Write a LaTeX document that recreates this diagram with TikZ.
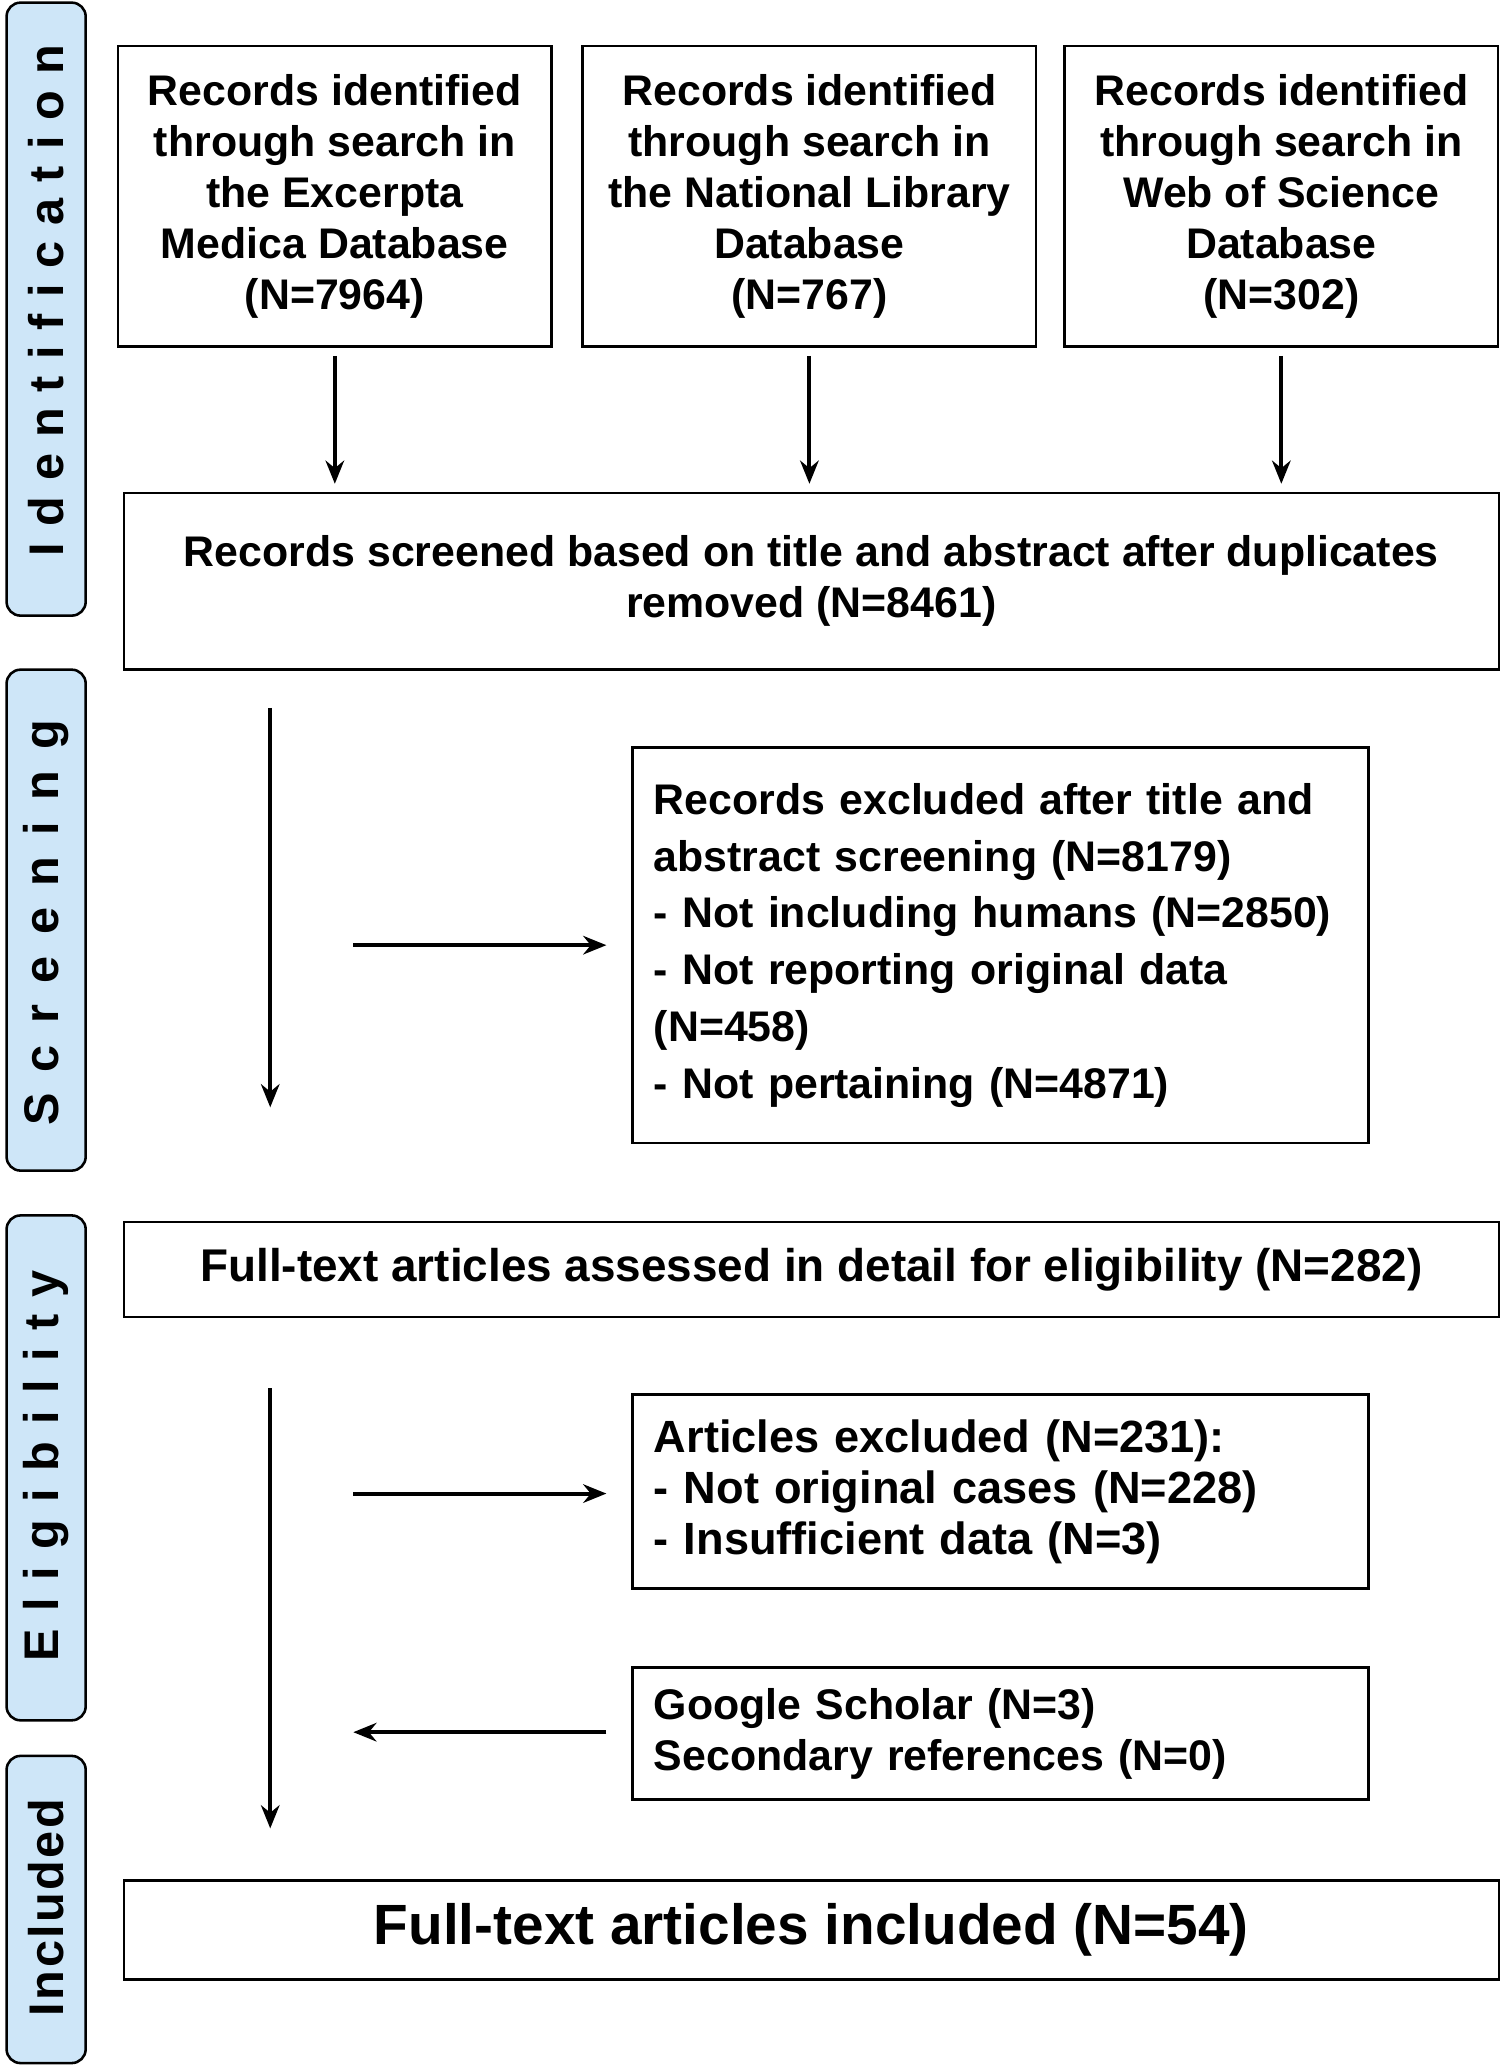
\documentclass[tikz,border=0pt]{standalone}
\usepackage{fontspec}
\setmainfont{Liberation Sans}
\usetikzlibrary{positioning,arrows.meta}
\definecolor{stagefill}{RGB}{206,230,248}
\begin{document}
\begin{tikzpicture}[
  x=0.02cm, y=-0.02cm,
  >={Stealth[length=10pt,width=8pt]},
  every node/.style={font=\bfseries\fontsize{18.5}{22}\selectfont},
  box/.style={draw, line width=1.1pt, inner sep=0pt},
  stage/.style={draw, line width=1.1pt, rounded corners=6pt, fill=stagefill},
  stagetext/.style={rotate=90, font=\bfseries\fontsize{21}{22}\selectfont\addfontfeatures{LetterSpace=#1}},
  flow/.style={->, line width=1.8pt}
]
\useasboundingbox (0,0) rectangle (1140,1568);

% --- Stage labels on the left ---
\draw[stage] (5,2) rectangle (65,467);
\node[stagetext=33] (ident) at (35,228) {Identification};
\draw[stage] (5,508) rectangle (65,888);
\node[stagetext=44] (screen) at (35,700) {Screening};
\draw[stage] (5,922) rectangle (65,1305);
\node[stagetext=36] (elig) at (35,1112) {Eligibility};
\draw[stage] (5,1332) rectangle (65,1565);
\node[stagetext=5] (incl) at (35,1447) {Included};

% --- Sources ---
\node[box, minimum width=329*0.02cm, minimum height=228*0.02cm, align=center] (emb) at (254,149)
  {Records identified\\through search in\\the Excerpta\\Medica Database\\(N=7964)};
\node[box, minimum width=344*0.02cm, minimum height=228*0.02cm, align=center] (nlm) at (614,149)
  {Records identified\\through search in\\the National Library\\Database\\(N=767)};
\node[box, minimum width=329*0.02cm, minimum height=228*0.02cm, align=center] (wos) at (972,149)
  {Records identified\\through search in\\Web of Science\\Database\\(N=302)};

% --- Screened ---
\node[box, minimum width=1043*0.02cm, minimum height=134*0.02cm, align=center] (scr) at (615.5,441)
  {Records screened based on title and abstract after duplicates\\removed (N=8461)};
\draw[flow] (254,270) -- (emb.south |- 0,367);
\draw[flow] (614,270) -- (nlm.south |- 0,367);
\draw[flow] (972,270) -- (wos.south |- 0,367);

% --- Exclusion after screening ---
\node[box, minimum width=558*0.02cm, minimum height=300*0.02cm, align=left, text width=526*0.02cm, font=\bfseries\fontsize{18.5}{24.5}\selectfont] (exc1) at (759,717)
  {Records excluded after title and\\abstract screening (N=8179)\\- Not including humans (N=2850)\\- Not reporting original data\\(N=458)\\- Not pertaining (N=4871)};
\coordinate (v1a) at (205,537);
\coordinate (v1b) at (205,840);
\coordinate (h1a) at (268,717);
\coordinate (h1b) at (460,717);
\draw[flow] (v1a) -- (v1b);
\draw[flow] (h1a) -- (h1b);

% --- Eligibility ---
\node[box, minimum width=1043*0.02cm, minimum height=72*0.02cm, font=\bfseries\fontsize{19.8}{22}\selectfont] (full) at (615.5,963)
  {Full-text articles assessed in detail for eligibility (N=282)};
\node[box, minimum width=558*0.02cm, minimum height=147*0.02cm, align=left, text width=526*0.02cm, font=\bfseries\fontsize{19.5}{22}\selectfont] (exc2) at (759,1131.5)
  {Articles excluded (N=231):\\- Not original cases (N=228)\\- Insufficient data (N=3)};
\node[box, minimum width=558*0.02cm, minimum height=100*0.02cm, align=left, text width=526*0.02cm] (add) at (759,1315)
  {Google Scholar (N=3)\\Secondary references (N=0)};
\coordinate (v2a) at (205,1053);
\coordinate (v2b) at (205,1387);
\coordinate (h2a) at (268,1133);
\coordinate (h2b) at (460,1133);
\coordinate (h3a) at (460,1314);
\coordinate (h3b) at (268,1314);
\draw[flow] (v2a) -- (v2b);
\draw[flow] (h2a) -- (h2b);
\draw[flow] (h3a) -- (h3b);

% --- Included ---
\node[box, minimum width=1043*0.02cm, minimum height=75*0.02cm, font=\bfseries\fontsize{24.5}{28}\selectfont] (inc) at (615.5,1464)
  {Full-text articles included (N=54)};
\end{tikzpicture}
\end{document}
